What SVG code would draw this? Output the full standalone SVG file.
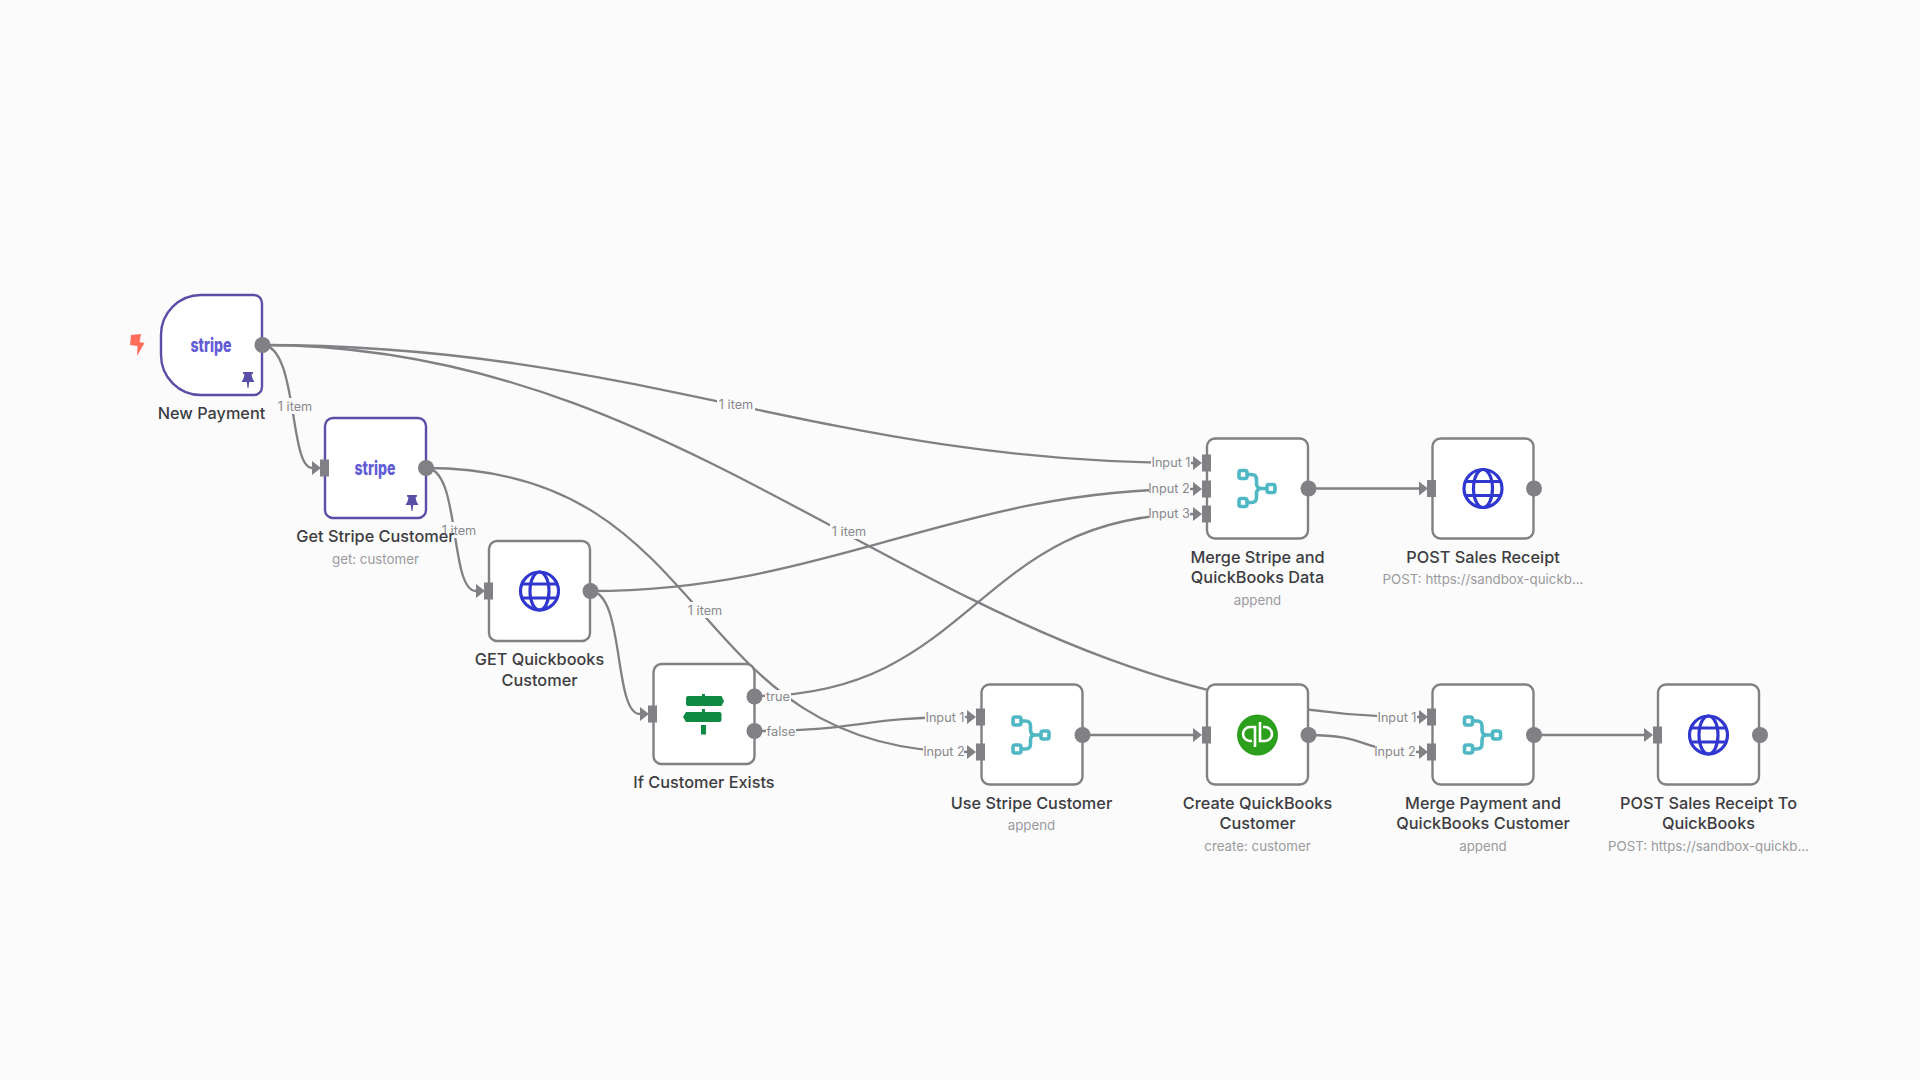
<svg xmlns="http://www.w3.org/2000/svg" width="1920" height="1080" viewBox="0 0 1920 1080">
<style>
text{font-family:"Inter","Liberation Sans",sans-serif;text-anchor:middle}
.t{font-size:16.3px;fill:#3d3d42;font-weight:500}
.s{font-size:13.300px;fill:#9a9a9e}
.l{font-size:12.700px;fill:#88888c;dominant-baseline:central}
.lb{fill:#fbfbfb}
.box{fill:#fff;stroke:#808085;stroke-width:2.400}
.pinned{stroke:#5a4fa6}
.e{fill:none;stroke:#808085;stroke-width:2.300}
.port{fill:#808085}
.stripe{font-size:19.500px;font-weight:800;fill:#635bd6}
</style>
<defs>
<marker id="arrow" markerUnits="userSpaceOnUse" markerWidth="10" markerHeight="16" refX="0" refY="8" orient="auto"><path d="M0,1V15L9,8Z" fill="#808085"/></marker>
<g id="globe" fill="none" stroke="#2f37cf" stroke-width="3.200"><circle r="19"/><ellipse rx="9.500" ry="19"/><path d="M-17,-7H17M-17,7H17"/></g>
<g id="merge" fill="none" stroke="#4fb8c4" stroke-width="3.600"><rect x="-18.500" y="-18" width="8" height="8" rx="2"/><rect x="-18.500" y="10" width="8" height="8" rx="2"/><rect x="9.500" y="-4" width="8" height="8" rx="2"/><path d="M-10.500,-14H-6Q-1,-14-1,-9V-5Q-1,0 4,0H9.500M-10.500,14H-6Q-1,14-1,9V5Q-1,0 4,0"/></g>
<path id="pin" fill="#5a4fa6" d="M-5-8H5V-6.500L3.500-5.500L4.500-1.500L6.500,2H1.200L.5,8H-.5L-1.200,2H-6.500L-4.500-1.500L-3.500-5.500L-5-6.500Z"/>
</defs>
<rect width="1920" height="1080" fill="#fbfbfb"/>
<g id="connectors">
<path class="e" marker-end="url(#arrow)" d="M262,345C298,345 289,468 312,468"/>
<path class="e" marker-end="url(#arrow)" d="M262,345C640,345 822,463 1193,463"/>
<path class="e" marker-end="url(#arrow)" d="M262,345C726,345 956,717 1419,717"/>
<path class="e" marker-end="url(#arrow)" d="M426,468C720,468 680,752 967,752"/>
<path class="e" marker-end="url(#arrow)" d="M426,468C461,468 449,591 476,591"/>
<path class="e" marker-end="url(#arrow)" d="M590,591C830,591 954,489 1193,489"/>
<path class="e" marker-end="url(#arrow)" d="M590,591C625,591 613,714 640,714"/>
<path class="e" marker-end="url(#arrow)" d="M755,696C975,696 975,514 1193,514"/>
<path class="e" marker-end="url(#arrow)" d="M755,731C860,731 860,717 967,717"/>
<path class="e" marker-end="url(#arrow)" d="M1082,735H1193"/>
<path class="e" marker-end="url(#arrow)" d="M1308,735C1370,735 1360,752 1419,752"/>
<path class="e" marker-end="url(#arrow)" d="M1308,488.500H1419"/>
<path class="e" marker-end="url(#arrow)" d="M1533,735H1644"/>
<g>
<rect class="lb" x="276" y="398" width="38" height="16"/><text class="l" x="295" y="406">1 item</text>
<rect class="lb" x="440" y="522" width="38" height="16"/><text class="l" x="459" y="530">1 item</text>
<rect class="lb" x="686" y="602" width="38" height="16"/><text class="l" x="705" y="610">1 item</text>
<rect class="lb" x="717" y="396" width="38" height="16"/><text class="l" x="736" y="404">1 item</text>
<rect class="lb" x="830" y="523" width="38" height="16"/><text class="l" x="849" y="531">1 item</text>
<rect class="lb" x="765" y="690" width="26" height="12"/><text class="l" x="778" y="696">true</text>
<rect class="lb" x="766" y="725" width="30" height="12"/><text class="l" x="781" y="731">false</text>
<rect class="lb" x="1151" y="455" width="40" height="15"/><text class="l" x="1171" y="462">Input 1</text>
<rect class="lb" x="1149" y="481" width="41" height="15"/><text class="l" x="1169" y="488">Input 2</text>
<rect class="lb" x="1149" y="506" width="41" height="15"/><text class="l" x="1169" y="513">Input 3</text>
<rect class="lb" x="925" y="709" width="40" height="15"/><text class="l" x="945" y="717">Input 1</text>
<rect class="lb" x="923" y="744" width="41" height="15"/><text class="l" x="944" y="751">Input 2</text>
<rect class="lb" x="1377" y="709" width="40" height="15"/><text class="l" x="1397" y="717">Input 1</text>
<rect class="lb" x="1375" y="744" width="41" height="15"/><text class="l" x="1395" y="751">Input 2</text>
</g>
</g>
<g id="new-payment">
<path d="M131,335L141,334L139.500,342L144.500,343L137,356L137.500,346L130,345Z" fill="#ff6d5a"/>
<path class="box pinned" d="M201,295H254a8,8 0 0 1 8,8V387a8,8 0 0 1-8,8H201a40,40 0 0 1-40-40V335a40,40 0 0 1 40-40Z"/>
<text class="stripe" x="211" y="352" textLength="41" lengthAdjust="spacingAndGlyphs">stripe</text>
<use href="#pin" x="248" y="380"/>
<circle class="port" cx="262.500" cy="345" r="8"/>
<text class="t" x="211.500" y="419">New Payment</text>
</g>
<g id="get-stripe-customer">
<rect class="box pinned" x="325" y="418" width="101" height="100" rx="8"/>
<rect class="port" x="320" y="459.500" width="9" height="17"/>
<text class="stripe" x="375" y="475" textLength="41" lengthAdjust="spacingAndGlyphs">stripe</text>
<use href="#pin" x="412" y="503"/>
<circle class="port" cx="426" cy="468" r="8"/>
<text class="t" x="375.500" y="542">Get Stripe Customer</text>
<text class="s" x="375.500" y="564">get: customer</text>
</g>
<g id="get-quickbooks-customer">
<rect class="box" x="489" y="541" width="101" height="100" rx="8"/>
<rect class="port" x="484" y="582.500" width="9" height="17"/>
<use href="#globe" x="539.500" y="591"/>
<circle class="port" cx="590.500" cy="591" r="8"/>
<text class="t" x="539.500" y="665">GET Quickbooks</text>
<text class="t" x="539.500" y="686">Customer</text>
</g>
<g id="if-customer-exists">
<rect class="box" x="653.500" y="664" width="101" height="100" rx="8"/>
<rect class="port" x="648" y="705.500" width="9" height="17"/>
<path fill="#0f8a43" d="M702,696V694H705V696H721.500L724,701L721.500,706H688Q686,706 686,704V698Q686,696 688,696ZM702,712V709H705V712H719.500Q721.500,712 721.500,714V720Q721.500,722 719.500,722H686L683,717L686,712ZM701,725H706V734.500H701Z"/>
<circle class="port" cx="754.500" cy="696.500" r="8"/>
<circle class="port" cx="754.500" cy="731" r="8"/>
<text class="t" x="704" y="788">If Customer Exists</text>
</g>
<g id="use-stripe-customer">
<rect class="box" x="981.500" y="684.500" width="101" height="100" rx="8"/>
<rect class="port" x="976" y="708.500" width="9" height="17"/>
<rect class="port" x="976" y="743.500" width="9" height="17"/>
<use href="#merge" x="1031.500" y="735"/>
<circle class="port" cx="1082.500" cy="735" r="8"/>
<text class="t" x="1031.500" y="809">Use Stripe Customer</text>
<text class="s" x="1031.500" y="830">append</text>
</g>
<g id="create-quickbooks-customer">
<rect class="box" x="1207" y="684.500" width="101" height="100" rx="8"/>
<rect class="port" x="1202" y="726.500" width="9" height="17"/>
<circle cx="1257.500" cy="735" r="20.500" fill="#2ca01c"/>
<path fill="none" stroke="#fff" stroke-width="2.600" d="M1255,747V727H1250A7,7 0 0 0 1250,741H1252M1260,722V741H1265A7,7 0 0 0 1265,727H1263"/>
<circle class="port" cx="1308.500" cy="735" r="8"/>
<text class="t" x="1257.500" y="809">Create QuickBooks</text>
<text class="t" x="1257.500" y="829">Customer</text>
<text class="s" x="1257.500" y="851">create: customer</text>
</g>
<g id="merge-payment-quickbooks-customer">
<rect class="box" x="1432.500" y="684.500" width="101" height="100" rx="8"/>
<rect class="port" x="1427" y="708.500" width="9" height="17"/>
<rect class="port" x="1427" y="743.500" width="9" height="17"/>
<use href="#merge" x="1483" y="735"/>
<circle class="port" cx="1534" cy="735" r="8"/>
<text class="t" x="1483" y="809">Merge Payment and</text>
<text class="t" x="1483" y="829">QuickBooks Customer</text>
<text class="s" x="1483" y="851">append</text>
</g>
<g id="post-sales-receipt-to-quickbooks">
<rect class="box" x="1658" y="684.500" width="101" height="100" rx="8"/>
<rect class="port" x="1653" y="726.500" width="9" height="17"/>
<use href="#globe" x="1708.500" y="735"/>
<circle class="port" cx="1760" cy="735" r="8"/>
<text class="t" x="1708.500" y="809">POST Sales Receipt To</text>
<text class="t" x="1708.500" y="829">QuickBooks</text>
<text class="s" x="1708.500" y="851">POST: https://sandbox-quickb...</text>
</g>
<g id="merge-stripe-quickbooks-data">
<rect class="box" x="1207" y="438.500" width="101" height="100" rx="8"/>
<rect class="port" x="1202" y="454.500" width="9" height="17"/>
<rect class="port" x="1202" y="480.500" width="9" height="17"/>
<rect class="port" x="1202" y="505.500" width="9" height="17"/>
<use href="#merge" x="1257.500" y="488.500"/>
<circle class="port" cx="1308.500" cy="488.500" r="8"/>
<text class="t" x="1257.500" y="563">Merge Stripe and</text>
<text class="t" x="1257.500" y="583">QuickBooks Data</text>
<text class="s" x="1257.500" y="605">append</text>
</g>
<g id="post-sales-receipt">
<rect class="box" x="1432.500" y="438.500" width="101" height="100" rx="8"/>
<rect class="port" x="1427" y="480" width="9" height="17"/>
<use href="#globe" x="1483" y="488.500"/>
<circle class="port" cx="1534" cy="488.500" r="8"/>
<text class="t" x="1483" y="563">POST Sales Receipt</text>
<text class="s" x="1483" y="584">POST: https://sandbox-quickb...</text>
</g>
</svg>
